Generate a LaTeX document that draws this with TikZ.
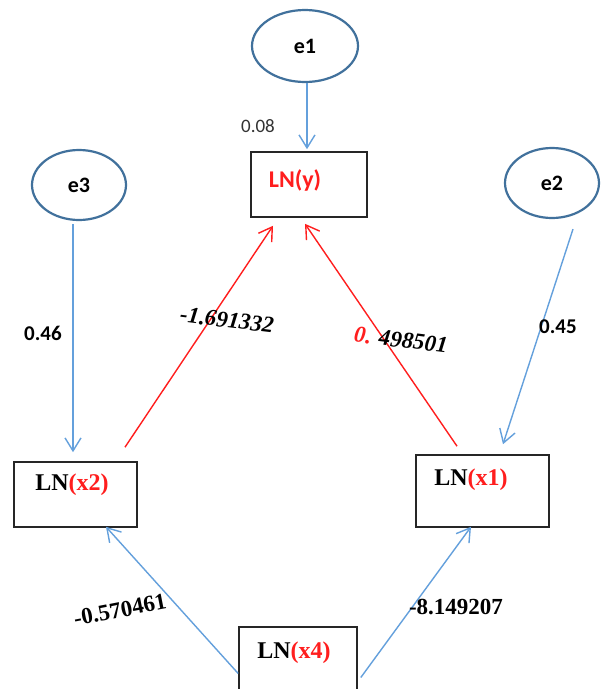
\documentclass[tikz,border=0pt]{standalone}
\usepackage{fontspec}
\setmainfont{Liberation Serif}
\newfontfamily\calib{Carlito}
\usetikzlibrary{arrows.meta,shapes.geometric}
\definecolor{ebord}{RGB}{65,113,156}
\definecolor{larrow}{RGB}{100,160,220}
\definecolor{lred}{RGB}{255,30,30}
\begin{document}
\begin{tikzpicture}[x=1pt,y=-1pt,
  errnode/.style={ellipse,draw=ebord,line width=2.2pt,minimum width=#1,minimum height=70pt,inner sep=0pt,
     font=\calib\bfseries\fontsize{22}{26}\selectfont},
  varbox/.style 2 args={rectangle,draw=black!85,line width=1.6pt,minimum width=#1,minimum height=#2,inner sep=0pt},
  boxtxt/.style={inner sep=0pt,font=\bfseries\fontsize{24}{28}\selectfont},
  bluearr/.style={draw=larrow,line width=1.4pt,-{Straight Barb[length=13pt,width=16pt,line width=1.4pt]}},
  redarr/.style={draw=lred,line width=1.4pt,-{Straight Barb[length=13pt,width=16pt,line width=1.4pt]}},
  coef/.style={inner sep=0pt,font=\bfseries\fontsize{23}{27}\selectfont},
  scoef/.style={inner sep=0pt,font=\calib\bfseries\fontsize{21}{25}\selectfont}
]
\useasboundingbox (0,0) rectangle (602,689);
\fill[white] (0,0) rectangle (602,689);

% error ellipses
\node[errnode=106pt,minimum height=72pt] (e1) at (305,46) {e1};
\node[errnode=94pt] (e3) at (79,185) {e3};
\node[errnode=94pt] (e2) at (552,183) {e2};

% boxes
\node[varbox={116pt}{65pt}] (ybox) at (309,184.5) {};
\node[varbox={123pt}{65pt}] (x2box) at (75.5,494.5) {};
\node[varbox={133pt}{72pt}] (x1box) at (482.5,491) {};
\node[varbox={118pt}{66pt}] (x4box) at (298,660) {};

% box texts
\node[boxtxt,font=\calib\bfseries\fontsize{24}{28}\selectfont,text=lred] (ty) at (295,180) {LN(y)};
\node[boxtxt] (tx2) at (72,485) {LN\textcolor{lred}{(x2)}};
\node[boxtxt] (tx1) at (471,480) {LN\textcolor{lred}{(x1)}};
\node[boxtxt] (tx4) at (294,653) {LN\textcolor{lred}{(x4)}};

% connectors
\draw[bluearr] ([xshift=2pt]e1.south) -- ([xshift=-2pt,yshift=2pt]ybox.north);
\draw[bluearr] ([xshift=-6pt,yshift=-3pt]e3.south) -- ([xshift=-2.5pt,yshift=9pt]x2box.north);
\draw[bluearr] ([xshift=21pt,yshift=-10pt]e2.south) -- ([xshift=20.5pt,yshift=10pt]x1box.north);
\draw[redarr] ([xshift=49.5pt,yshift=14pt]x2box.north) -- ([xshift=-36pt,yshift=-8pt]ybox.south);
\draw[redarr] ([xshift=-25.5pt,yshift=8pt]x1box.north) -- ([xshift=-4pt,yshift=-6pt]ybox.south);
\draw[bluearr] ([yshift=-13.5pt]x4box.west) -- ([xshift=30.5pt,yshift=1pt]x2box.south);
\draw[bluearr] ([xshift=3pt,yshift=-17.5pt]x4box.east) -- ([xshift=-11.5pt,yshift=1pt]x1box.south);

% coefficients
\node[inner sep=0pt,font=\calib\fontsize{19}{23}\selectfont,text=black!80] (c08) at (258,126) {0.08};
\node[scoef] (c46) at (43,333) {0.46};
\node[scoef] (c45) at (558,327) {0.45};
\node[coef,font=\bfseries\itshape\fontsize{23}{27}\selectfont,rotate=-7] (c169) at (227,320) {-1.691332};
\node[coef,font=\bfseries\itshape\fontsize{23}{27}\selectfont,rotate=-7] (c498) at (401,340) {\textcolor{lred}{0.} 498501};
\node[coef,rotate=11] (c570) at (120,610) {-0.570461};
\node[coef] (c814) at (456,607) {-8.149207};
\end{tikzpicture}
\end{document}
